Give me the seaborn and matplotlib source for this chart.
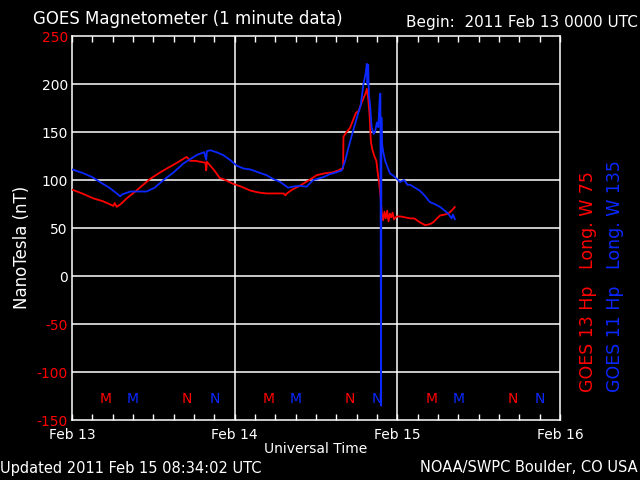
import matplotlib
matplotlib.use("Agg")
import matplotlib.pyplot as plt
import seaborn as sns
import pandas as pd
from matplotlib.ticker import MultipleLocator, FixedLocator

# ---- data (hours since 2011 Feb 13 00:00 UTC, nT) ----
g13_hours = [0.0, 1.5, 3.1, 4.5, 5.5, 6.1, 6.3, 6.6, 7.2, 8.1, 9.5, 10.5, 11.5, 12.8, 14.0,
             15.5, 16.9, 17.2, 17.4, 18.2, 18.9, 19.7, 19.8, 19.9, 21.0, 21.8, 22.3, 23.8,
             25.0, 26.3, 27.5, 28.7, 30.0, 31.2, 31.5, 31.7, 32.5, 33.6, 35.0, 36.1, 37.3,
             38.5, 39.3, 39.8, 40.0, 40.05, 40.5, 41.0, 41.5, 41.9, 42.3, 42.6, 43.0, 43.3,
             43.5, 43.7, 43.9, 44.1, 44.3, 44.6, 44.9, 45.1, 45.3, 45.5, 45.7, 45.9, 46.1,
             46.3, 46.5, 46.7, 46.9, 47.1, 47.3, 47.5, 47.9, 48.5, 49.2, 49.9, 50.5, 51.3,
             52.1, 52.8, 53.3, 54.3, 55.0, 55.5, 56.0, 56.5]
g13_nt = [90, 86, 81, 78, 75, 73, 76, 72, 75, 81, 89, 95, 101, 107, 112,
          118, 124, 122, 120, 120, 119, 118, 110, 119, 110, 102, 101, 96,
          93, 89, 87, 86, 86, 86, 84, 86, 90, 94, 100, 105, 107,
          108, 110, 112, 112, 145, 150, 154, 163, 170, 172, 178, 185, 190,
          195, 185, 168, 140, 132, 125, 120, 108, 98, 85, 66, 58, 67,
          60, 68, 57, 65, 61, 66, 59, 62, 62, 61, 60, 60, 56,
          53, 54, 56, 63, 64, 65, 68, 72]

g11_hours = [0.0, 1.7, 3.0, 4.1, 5.5, 6.6, 7.1, 7.4, 8.6, 9.8, 11.0, 12.2, 13.5, 15.0, 16.4,
             17.5, 18.4, 19.5, 19.8, 19.9, 20.4, 21.3, 22.3, 23.3, 24.3, 25.3, 26.3, 27.5,
             28.7, 29.7, 30.7, 31.9, 32.5, 33.6, 34.6, 35.6, 37.1, 38.0, 39.0, 39.8, 40.3,
             40.8, 41.5, 42.2, 42.6, 43.0, 43.3, 43.5, 43.6, 43.7, 43.8, 44.0, 44.2, 44.5,
             44.7, 45.0, 45.2, 45.4, 45.5, 45.6, 45.65, 45.7, 45.9, 46.2, 46.9, 47.5, 48.4,
             49.0, 49.5, 49.9, 50.6, 51.3, 52.0, 52.8, 53.5, 54.3, 55.0, 55.5, 56.0, 56.2,
             56.5]
g11_nt = [111, 107, 103, 98, 92, 86, 83, 85, 88, 88, 88, 92, 100, 108, 117,
          122, 126, 129, 121, 130, 131, 129, 126, 121, 115, 112, 111, 108,
          105, 101, 98, 92, 93, 94, 93, 100, 103, 106, 108, 110, 120,
          134, 152, 169, 178, 200, 210, 221, 200, 220, 190, 176, 155, 148,
          150, 160, 155, 185, 190, -135, 165, 140, 130, 120, 107, 104, 98,
          100, 95, 95, 92, 89, 84, 77, 75, 72, 68, 65, 60, 64,
          59]

sat_names = ["GOES 13 Hp", "GOES 11 Hp"]
sat_colors = ["#ff0000", "#0a28ff"]
y_ticks = [-150, -100, -50, 0, 50, 100, 150, 200, 250]
red_ticks = [250, -50, -100, -150]
day_labels = ["Feb 13", "Feb 14", "Feb 15", "Feb 16"]
mn_marks = [("M", 5, 0), ("M", 9, 1), ("N", 17, 0), ("N", 21, 1)]

df = pd.concat([
    pd.DataFrame({"hours": g13_hours, "nT": g13_nt, "sat": sat_names[0]}),
    pd.DataFrame({"hours": g11_hours, "nT": g11_nt, "sat": sat_names[1]}),
])

sns.set_style("dark", rc={"axes.facecolor": "black", "figure.facecolor": "black",
                          "axes.edgecolor": "white", "text.color": "white",
                          "xtick.color": "white", "ytick.color": "white",
                          "axes.grid": False})
plt.rcParams["font.family"] = ["DejaVu Sans"]

fig = plt.figure(figsize=(6.4, 4.8), dpi=100, facecolor="black")
ax = fig.add_axes([72 / 640, 1 - 420 / 480, 488 / 640, 384 / 480])
ax.set_facecolor("black")

# grid lines
for yv in [-100, -50, 0, 50, 100, 150, 200]:
    ax.axhline(yv, color="white", lw=1.1, zorder=1)
for xv in [24, 48]:
    ax.axvline(xv, color="white", lw=1.1, zorder=1)

sns.lineplot(data=df, x="hours", y="nT", hue="sat", palette=dict(zip(sat_names, sat_colors)),
             estimator=None, sort=False, legend=False, lw=1.3, ax=ax, zorder=3)

ax.set_xlim(0, 72)
ax.set_ylim(-150, 250)
ax.xaxis.set_major_locator(FixedLocator([0, 24, 48, 72]))
ax.set_xticklabels(day_labels)
ax.xaxis.set_minor_locator(MultipleLocator(3))
ax.tick_params(axis="x", which="both", direction="in", top=True, bottom=True,
               length=4, width=1, color="white", labelsize=10, pad=6, labelcolor="white")
ax.set_yticks(y_ticks)
ax.set_yticklabels([str(v) for v in y_ticks])
ax.tick_params(axis="y", length=0, labelsize=10, pad=3)
for lab, v in zip(ax.get_yticklabels(), y_ticks):
    lab.set_color("#ff0000" if v in red_ticks else "white")
for s in ax.spines.values():
    s.set_color("white")
    s.set_linewidth(1.1)
ax.set_xlabel("")
ax.set_ylabel("")

# M / N local midnight/noon markers
for day in range(3):
    for letter, hr, si in mn_marks:
        ax.text(day * 24 + hr, -128, letter, color=sat_colors[si], ha="center",
                va="center", fontsize=10, zorder=2)

fig.text(33 / 640, 1 - 19 / 480, "GOES Magnetometer (1 minute data)", fontsize=12,
         ha="left", va="center", color="white")
fig.text(638 / 640, 1 - 23 / 480, "Begin:  2011 Feb 13 0000 UTC", fontsize=11,
         ha="right", va="center", color="white")
fig.text(316 / 640, 1 - 449 / 480, "Universal Time", fontsize=10, ha="center",
         va="center", color="white")
fig.text(22 / 640, 1 - 247 / 480, "NanoTesla (nT)", fontsize=12, rotation=90,
         ha="center", va="center", color="white")
fig.text(0, 1 - 468 / 480, "Updated 2011 Feb 15 08:34:02 UTC", fontsize=10.5,
         ha="left", va="center", color="white")
fig.text(638 / 640, 1 - 468 / 480, "NOAA/SWPC Boulder, CO USA", fontsize=10.5,
         ha="right", va="center", color="white")
for i, (nm, lon) in enumerate([("GOES 13 Hp", "Long. W 75"), ("GOES 11 Hp", "Long. W 135")]):
    fig.text((588 + 27 * i) / 640, 1 - 392 / 480, nm + "   " + lon, fontsize=12.5,
             rotation=90, rotation_mode="anchor", ha="left", va="center",
             color=sat_colors[i])

fig.savefig("out.png", dpi=100, facecolor="black")
